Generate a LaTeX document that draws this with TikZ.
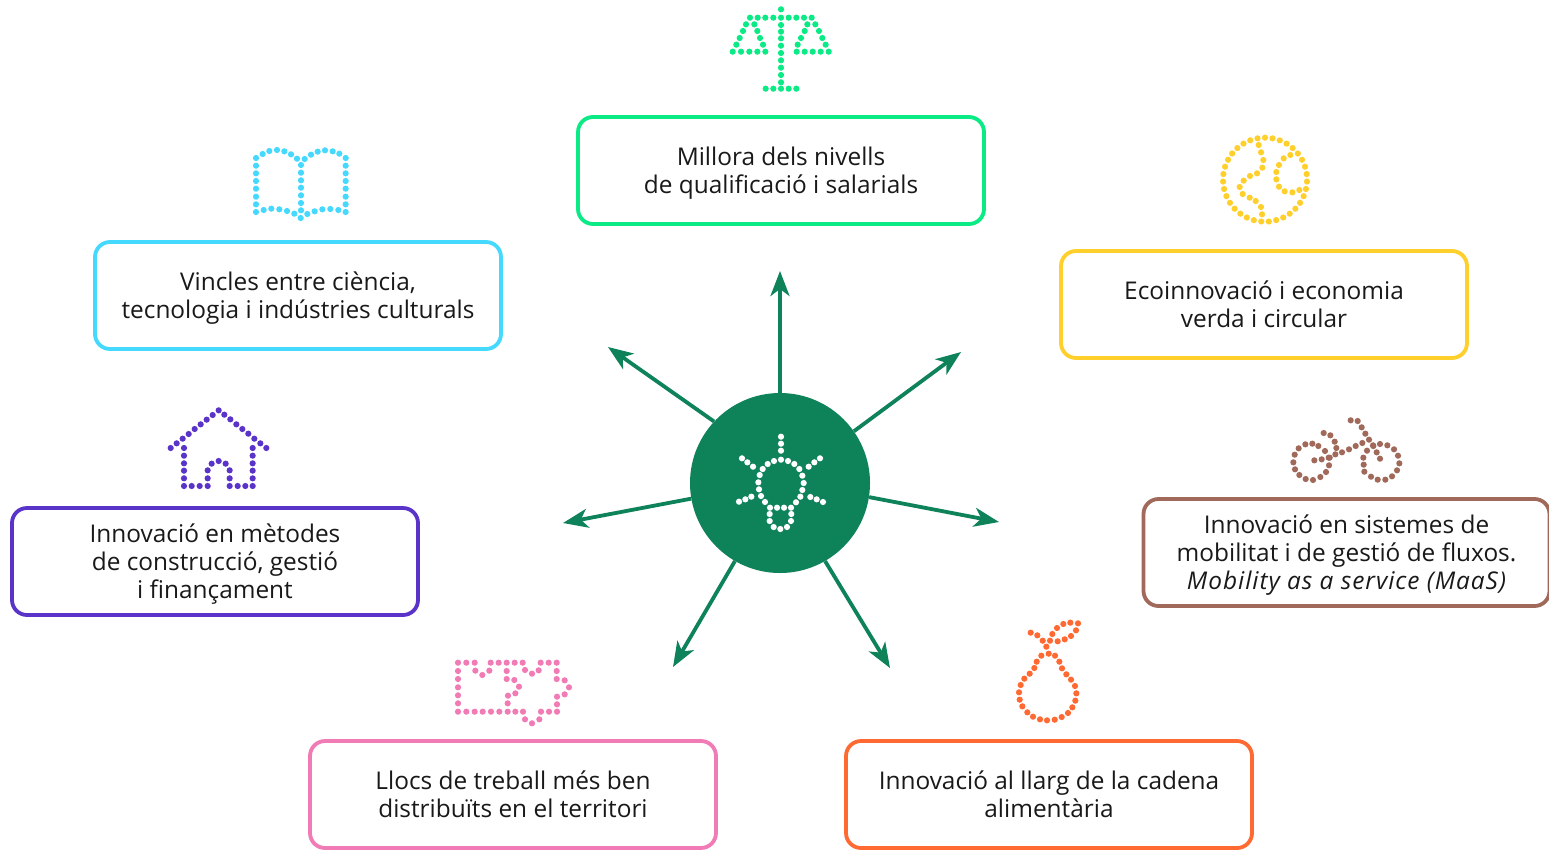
\documentclass[tikz,border=0pt]{standalone}
\usepackage{fontspec}
\setmainfont{Open Sans}
\usetikzlibrary{arrows.meta}
\definecolor{cgreen}{HTML}{0AEA85}
\definecolor{ccyan}{HTML}{45D9FF}
\definecolor{cyell}{HTML}{FFD02B}
\definecolor{cpurp}{HTML}{5A34C9}
\definecolor{cbrown}{HTML}{A0695A}
\definecolor{cpink}{HTML}{F07BB5}
\definecolor{corange}{HTML}{FF6A33}
\definecolor{chub}{HTML}{0E8259}
\tikzset{
  card/.style={draw=#1,line width=3.8pt,rounded corners=15pt,fill=white,minimum width=406pt,minimum height=107pt,inner sep=0pt,align=center,text=black!90,font=\fontsize{24.4}{28}\selectfont},
  spoke/.style={draw=chub,line width=3.8pt,-{Stealth[length=25pt,width=19pt,inset=7pt]}},
  hubnode/.style={circle,fill=chub,minimum size=180pt,inner sep=0pt}
}
\newcommand\dotset[4]{\foreach \a/\b in {#4} \fill[#1] ({#2+\a/3},{#3+\b/3}) circle (3.1pt);}
\newcommand\tstrut{\rule{0pt}{26.6pt}}
\begin{document}
\begin{tikzpicture}[x=1pt,y=-1pt]
\useasboundingbox (0,0) rectangle (1549,849);
\fill[white] (0,0) rectangle (1549,849);
\node[hubnode] (hub) at (780,483) {};
\coordinate (a1) at (780,271);
\coordinate (a2) at (961,352);
\coordinate (a3) at (999,522);
\coordinate (a4) at (890,668);
\coordinate (a5) at (673,667);
\coordinate (a6) at (563,523);
\coordinate (a7) at (608,347);
\foreach \ang/\t in {90.5/a1,35.5/a2,-9/a3,-60/a4,240/a5,190/a6,137/a7} \draw[spoke] (hub.\ang) -- (\t);
\node[card=cgreen] (n1) at (781,170.5) {\tstrut Millora dels nivells\\de qualificació i salarials\strut};
\node[card=ccyan] (n2) at (298,295.5) {\tstrut Vincles entre ciència,\\tecnologia i indústries culturals\strut};
\node[card=cyell] (n3) at (1264,304.5) {\tstrut Ecoinnovació i economia\\verda i circular\strut};
\node[card=cpurp] (n4) at (215,561.5) {\tstrut Innovació en mètodes\\de construcció, gestió\\i finançament\strut};
\node[card=cbrown] (n5) at (1346.5,552.5) {\tstrut Innovació en sistemes de\\mobilitat i de gestió de fluxos.\\\itshape\addfontfeature{LetterSpace=4} Mobility as a service (MaaS)\strut};
\node[card=cpink] (n6) at (513,794.5) {\tstrut Llocs de treball més ben\\distribuïts en el territori\strut};
\node[card=corange] (n7) at (1049,794.5) {\tstrut Innovació al llarg de la cadena\\alimentària\strut};
% scales
\dotset{cgreen}{710}{0}{213/28,120/53,143/53,166/53,190/53,213/53,236/53,259/53,282/53,305/53,213/75,213/95,213/115,213/137,213/159,213/181,213/203,213/225,213/247,167/266,190/266,213/266,236/266,259/266,108/73,133/73,99/93,142/93,89/114,150/114,79/134,159/134,68/155,93/155,118/155,142/155,166/155,292/73,316/73,284/93,327/93,273/114,337/114,263/134,347/134,260/155,284/155,308/155,332/155,356/155}
% globe
\foreach \k in {0,...,34} \fill[cyell] ({1200+(195+126*cos(\k*360/35+270))/3},{125+(164+126*sin(\k*360/35+270))/3}) circle (3.1pt);
\dotset{cyell}{1200}{125}{176/60,183/82,190/105,187/128,171/145,150/153,131/167,119/186,128/207,149/218,167/228,183/246,186/268,271/90,251/100,237/120,229/141,229/163,237/185,254/199,277/202,298/195}
% book
\dotset{ccyan}{240}{135}{48/69,48/92,48/115,48/138,48/161,48/185,48/208,48/231,68/57,88/48,111/45,133/49,153/58,171/71,194/72,213/59,233/50,255/46,278/49,298/56,317/69,317/92,317/115,317/138,317/161,317/185,317/208,317/231,183/90,183/113,183/136,183/158,183/181,183/204,183/226,182/249,71/225,94/221,118/223,141/228,163/236,202/237,224/229,247/223,271/222,295/225}
% house
\dotset{cpurp}{155}{400}{47/144,65/130,83/116,101/102,119/87,137/73,155/59,173/45,191/31,208/44,226/58,244/73,262/87,280/101,298/116,316/130,334/144,87/144,87/167,87/190,87/212,87/235,87/258,110/258,134/258,158/258,158/235,158/211,170/191,191/183,212/191,224/211,224/235,224/258,248/258,271/258,293/258,293/235,293/212,293/190,293/167,293/144}
% bike
\dotset{cbrown}{1275}{410}{55/157,60/178,73/195,92/207,114/210,136/201,153/186,162/166,164/143,150/123,130/108,112/101,91/103,71/115,59/134,118/151,140/148,161/143,181/133,201/127,222/118,242/108,262/99,282/89,146/69,166/76,179/95,184/114,227/31,248/33,260/52,271/71,295/108,305/127,315/146,265/143,266/164,268/185,288/200,308/209,331/209,351/199,366/181,373/160,369/137,357/118,337/106,315/102,294/106,276/122}
% pear
\dotset{corange}{1000}{610}{146/131,124/137,110/155,103/174,89/191,73/206,62/225,57/247,59/269,67/289,82/307,99/320,120/328,141/331,164/329,185/321,204/309,217/292,226/272,229/250,225/228,213/209,199/193,186/175,178/155,165/137,139/110,128/92,112/76,92/68,150/92,173/94,194/88,213/78,228/61,234/40,211/38,190/42,171/54,157/72}
% arrows sign
\dotset{cpink}{445}{650}{39/38,64/38,89/38,137/38,161/38,185/38,209/38,233/38,287/38,311/38,335/38,39/63,39/87,39/112,39/136,39/160,39/185,64/185,89/185,113/185,138/185,163/185,188/185,211/185,234/185,288/185,312/185,336/185,91/62,112/75,133/62,240/60,261/71,281/61,185/63,185/87,208/90,222/110,211/130,189/137,188/160,335/63,335/87,359/91,372/112,359/133,336/140,336/163,240/208,261/220,283/208}
% bulb
\dotset{white}{680}{385}{303/155,303/176,303/197,186/220,202/232,219/245,420/220,403/232,386/245,177/350,196/343,214/335,429/351,410/343,391/336,303/224,324/228,343/237,358/252,367/272,371/294,367/315,361/335,348/352,333/368,312/368,291/368,270/368,255/351,243/333,237/313,235/292,239/270,248/252,263/237,282/228,269/387,269/408,281/426,301/432,321/426,333/408,334/387}
\end{tikzpicture}
\end{document}
